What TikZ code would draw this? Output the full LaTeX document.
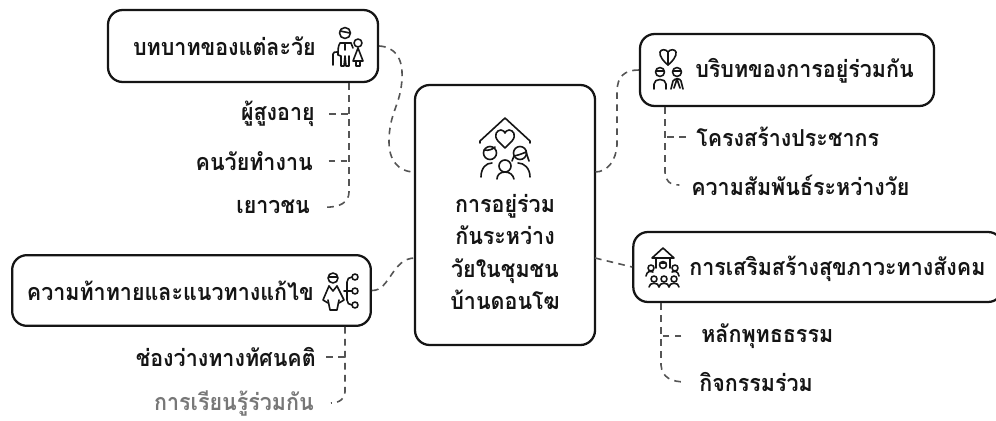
\documentclass[tikz,border=0pt]{standalone}
\usepackage{fontspec}
\setmainfont[Script=Thai,FakeStretch=0.92]{Loma}
\usepackage{tikz}
\usetikzlibrary{positioning}
\definecolor{inkmain}{HTML}{151515}
\definecolor{inkfade}{HTML}{777777}
\definecolor{linkgray}{HTML}{555555}
\tikzset{
  framebox/.style={draw=inkmain,line width=1.7pt,rounded corners=11pt,fill=white,inner sep=0pt},
  headtext/.style={font=\fontsize{17.5}{17.5}\selectfont\bfseries,text=inkmain,inner sep=0.75pt},
  subtext/.style={font=\fontsize{17.5}{17.5}\selectfont\bfseries,text=inkmain,inner sep=0.75pt},
  linkdash/.style={draw=linkgray,line width=1.2pt,dash pattern=on 5pt off 4pt},
  glyph/.style={draw=inkmain,line width=1.2pt,line cap=round,line join=round}
}
\begin{document}
\begin{tikzpicture}[x=0.75pt,y=0.75pt,yscale=-1,xscale=1]
        \useasboundingbox (0,0) rectangle (996,421);

        %Shape: Rounded Rectangle
        \node [framebox,minimum width=135pt,minimum height=195pt] (mainBox) at (505,215) {};
        \node [framebox,minimum width=202.5pt,minimum height=54pt] (roleBox) at (243,46) {};
        \node [framebox,minimum width=269pt,minimum height=53pt] (gapBox) at (191.5,290.5) {};
        \node [framebox,minimum width=220.5pt,minimum height=54pt] (contextBox) at (787,70) {};
        \node [framebox,minimum width=277pt,minimum height=52.5pt] (healthBox) at (818,267) {};

        % Text Node
        \node [headtext,align=center,font=\fontsize{17.5}{24.4}\selectfont\bfseries] (mainText) at (505,252) {การอยู่ร่วม\\กันระหว่าง\\วัยในชุมชน\\บ้านดอนโฆ};
        % Text Node
        \node [headtext,anchor=east] (roleText) at (317,46) {บทบาทของแต่ละวัย};
        \node [subtext,anchor=east] (elderText) at (316,114) {ผู้สูงอายุ};
        \node [subtext,anchor=east] (workText) at (314,161) {คนวัยทำงาน};
        \node [subtext,anchor=east] (youthText) at (311,207) {เยาวชน};
        % Text Node
        \node [headtext,anchor=east] (gapText) at (315,291) {ความท้าทายและแนวทางแก้ไข};
        \node [subtext,anchor=east] (viewText) at (317,357) {ช่องว่างทางทัศนคติ};
        \node [subtext,anchor=east,text=inkfade] (learnText) at (315,403) {การเรียนรู้ร่วมกัน};
        % Text Node
        \node [headtext,anchor=west] (contextText) at (694,71) {บริบทของการอยู่ร่วมกัน};
        \node [subtext,anchor=west] (peopleText) at (695,137) {โครงสร้างประชากร};
        \node [subtext,anchor=west] (bondText) at (690,185) {ความสัมพันธ์ระหว่างวัย};
        % Text Node
        \node [headtext,anchor=west] (healthText) at (688,269) {การเสริมสร้างสุขภาวะทางสังคม};
        \node [subtext,anchor=west] (dharmaText) at (700,336) {หลักพุทธธรรม};
        \node [subtext,anchor=west] (jointText) at (698,382) {กิจกรรมร่วม};

        %Curve Lines, main box to the four heads
        \coordinate (mainUL) at (415,172);
        \coordinate (mainUR) at (595,172);
        \coordinate (mainLL) at (415,258);
        \coordinate (mainLR) at (595,258);
        \draw [linkdash] (roleBox.east) .. controls (395,47) and (403,58) .. (402,78) .. controls (401,105) and (389,112) .. (389,142) .. controls (389,160) and (398,172) .. (mainUL);
        \draw [linkdash] (contextBox.west) .. controls (625,70) and (617,76) .. (617,92) -- (617,145) .. controls (616,160) and (608,172) .. (mainUR);
        \draw [linkdash] (gapBox.east) .. controls (390,291) and (392,258) .. (mainLL);
        \draw [linkdash] (mainLR) -- (healthBox.west);

        %Straight Lines, trunks and branches
        \coordinate (roleTrunk) at (349,192);
        \coordinate (gapTrunk) at (345,392);
        \coordinate (contextTrunk) at (665,172);
        \coordinate (healthTrunk) at (661,365);
        \draw [linkdash] (roleBox.south -| roleTrunk) -- (roleTrunk) .. controls (349,202) and (340,208) .. ([xshift=10pt]youthText.east);
        \draw [linkdash] ([xshift=10pt]elderText.east) -- (elderText.east -| roleTrunk);
        \draw [linkdash] ([xshift=11pt]workText.east) -- (workText.east -| roleTrunk);
        \draw [linkdash] (gapBox.south -| gapTrunk) -- (gapTrunk) .. controls (345,398) and (340,403) .. ([xshift=12pt]learnText.east);
        \draw [linkdash] ([xshift=7pt]viewText.east) -- (viewText.east -| gapTrunk);
        \draw [linkdash] (contextBox.south -| contextTrunk) -- (contextTrunk) .. controls (665,181) and (670,185) .. ([xshift=-8pt]bondText.west);
        \draw [linkdash] ([xshift=-7pt]peopleText.west) -- (peopleText.west -| contextTrunk);
        \draw [linkdash] (healthBox.south -| healthTrunk) -- (healthTrunk) .. controls (662,378) and (672,382) .. ([xshift=-9pt]jointText.west);
        \draw [linkdash] ([xshift=-14pt]dharmaText.west) -- (dharmaText.west -| healthTrunk);

        %Shape: house with family
        \draw [glyph] (480,143) -- (480,141) -- (505,118) -- (530,141) -- (530,143);
        \draw [glyph] (505,148) -- (498,141) .. controls (493,135) and (497,130) .. (501,130) .. controls (503,130) and (505,132) .. (505,133) .. controls (505,132) and (507,130) .. (509,130) .. controls (513,130) and (517,135) .. (512,141) -- cycle;
        \draw [glyph] (490,153) circle (6.5);
        \draw [glyph] (484,150) .. controls (489,151) and (493,149) .. (495,147);
        \draw [glyph] (520,153) circle (6.5);
        \draw [glyph] (514,156) .. controls (519,155) and (524,153) .. (526,152) (526,152) -- (529,161) (514,156) -- (512,161);
        \draw [glyph] (505,166) circle (6);
        \draw [glyph] (481,177) .. controls (481,168) and (486,163) .. (492,163) (518,163) .. controls (524,163) and (530,168) .. (530,177);
        \draw [glyph] (497,179) .. controls (497,175) and (500,172) .. (505,172) .. controls (510,172) and (513,175) .. (514,179);

        %Shape: elder with child
        \draw [glyph] (345,33) circle (5.5);
        \draw [glyph] (340,31) -- (350,33);
        \draw [glyph] (340,43) -- (351,43) (340,43) .. controls (338,46) and (338,50) .. (338,55) -- (341,56) -- (341,66) -- (344,66) -- (345,56) -- (346,66) -- (349,66) -- (349,56);
        \draw [glyph] (345,43) -- (345,50);
        \draw [glyph] (351,43) -- (353,48);
        \draw [glyph] (333,65) -- (333,54) .. controls (333,52) and (335,52) .. (337,52);
        \draw [glyph] (358,43) circle (4);
        \draw [glyph] (358,48) -- (353,61) -- (363,61) -- cycle;
        \draw [glyph] (356,61) -- (356,66) -- (360,66) -- (360,61);

        %Shape: couple with ribbon
        \draw [glyph] (668,65) .. controls (664,62) and (659,56) .. (660,52) .. controls (661,49) and (666,49) .. (668,52) .. controls (670,49) and (675,49) .. (676,52) .. controls (677,56) and (672,62) .. (668,65);
        \draw [glyph] (668,52) -- (668,65);
        \draw [glyph] (660,72) circle (4.5);
        \draw [glyph] (656,71) -- (664,71);
        \draw [glyph] (654,89) -- (654,84) .. controls (654,78) and (666,78) .. (666,84) -- (666,89);
        \draw [glyph] (677,72) circle (4.5);
        \draw [glyph] (673,71) -- (681,71);
        \draw [glyph] (671,89) -- (673,81) .. controls (675,78) and (680,78) .. (681,81) -- (683,89) (677,79) -- (674,88) (677,79) -- (680,88);

        %Shape: house with community
        \draw [glyph] (652,258) -- (663,248) -- (674,258) -- cycle;
        \draw [glyph] (656,258) -- (656,268) (670,258) -- (670,268);
        \draw [glyph] (663,265) circle (3.5);
        \draw [glyph] (660,263) -- (666,263);
        \draw [glyph] (651,268) circle (3);
        \draw [glyph] (646,276) .. controls (647,271) and (650,271) .. (653,272);
        \draw [glyph] (675,268) circle (3);
        \draw [glyph] (679,276) .. controls (678,271) and (675,271) .. (672,272);
        \draw [glyph] (654,279) circle (3);
        \draw [glyph] (664,279) circle (3);
        \draw [glyph] (674,279) circle (3);
        \draw [glyph] (649,287) .. controls (649,282) and (659,282) .. (659,287) .. controls (659,282) and (669,282) .. (669,287) .. controls (669,282) and (679,282) .. (679,287);

        %Shape: woman with branches
        \draw [glyph] (333,278) circle (5);
        \draw [glyph] (329,277) -- (337,277);
        \draw [glyph] (329,286) -- (323,300) -- (328,303) (337,286) -- (344,300) -- (339,303);
        \draw [glyph] (329,286) -- (333,291) -- (337,286);
        \draw [glyph] (328,300) -- (330,310) -- (337,310) -- (339,300);
        \draw [glyph] (355,277) circle (3);
        \draw [glyph] (355,291) circle (3);
        \draw [glyph] (355,305) circle (3);
        \draw [glyph] (344,291) -- (352,291);
        \draw [glyph] (352,277) .. controls (349,277) and (347,279) .. (347,282) -- (347,300) .. controls (347,303) and (349,305) .. (352,305);
\end{tikzpicture}
\end{document}
